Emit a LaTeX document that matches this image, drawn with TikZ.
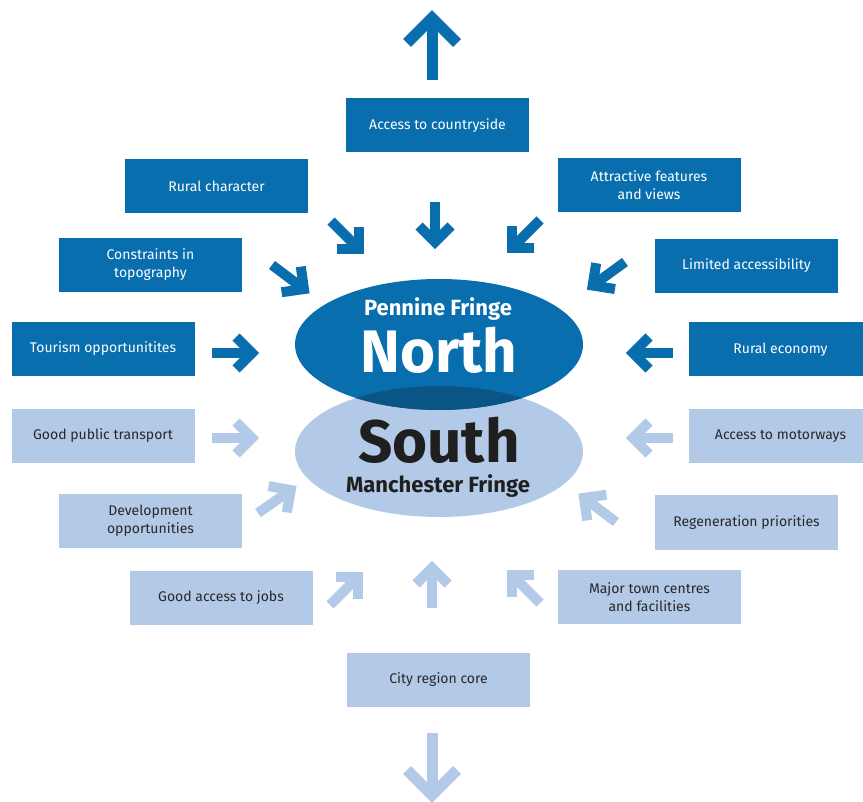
\documentclass[tikz,border=0pt]{standalone}
\usepackage{fontspec}
\setmainfont{Fira Sans}
\usetikzlibrary{shapes.geometric}
\definecolor{fringeblue}{RGB}{8,110,174}
\definecolor{fringelight}{RGB}{178,201,231}
\definecolor{fringedeep}{RGB}{11,84,134}
\definecolor{fringetext}{RGB}{40,40,40}
\tikzset{
  darkbox/.style={fill=fringeblue, text=white, minimum width=183, minimum height=54,
    inner sep=0, align=center, font=\fontsize{14}{18}\selectfont},
  lightbox/.style={darkbox, fill=fringelight, text=fringetext},
  fringe/.style={ellipse, inner sep=0, minimum width=288, minimum height=131},
  smallarrow/.pic={
    \draw[line width=10] (0,0) -- (40,0);
    \draw[line width=10, line join=miter] (24,16) -- (40,0) -- (24,-16);
  },
  bigarrow/.pic={
    \draw[line width=11] (0,0) -- (62,0);
    \draw[line width=11, line join=miter] (37,25) -- (62,0) -- (37,-25);
  }
}
\begin{document}
\begin{tikzpicture}[x=1pt, y=-1pt]
\useasboundingbox (0,0) rectangle (863,802);
% the two fringes
\node (south) [fringe, fill=fringelight] at (439,451.5) {};
\node (north) [fringe, fill=fringeblue] at (439,344.5) {};
\begin{scope}
  \clip (south.center) ellipse [x radius=144, y radius=65.5];
  \fill [fringedeep] (north.center) ellipse [x radius=144, y radius=65.5];
\end{scope}
\node (pennine) at (438,309) [text=white, font=\bfseries\fontsize{22}{22}\selectfont] {Pennine Fringe};
\node (northtxt) at (439,350) [text=white, font=\bfseries\fontsize{60}{60}\selectfont] {North};
\node (southtxt) at (439,440) [text=black!88, font=\bfseries\fontsize{60}{60}\selectfont] {South};
\node (manchester) at (438,486) [text=black!88, font=\bfseries\fontsize{22}{22}\selectfont] {Manchester Fringe};
% pennine side
\node (access) [darkbox] at (437.5,125.5) {Access to countryside};
\node (rural) [darkbox] at (216.5,186) {Rural character};
\node (attract) [darkbox] at (649,185) {Attractive features\\and views};
\node (constr) [darkbox] at (150.5,265) {Constraints in\\topography};
\node (limited) [darkbox] at (746.5,266) {Limited accessibility};
\node (tourism) [darkbox] at (103,349) {Tourism opportunitites};
\node (ruraleco) [darkbox] at (780.5,349.5) {Rural economy};
% manchester side
\node (transport) [lightbox] at (103,436) {Good public transport};
\node (motorways) [lightbox] at (780.5,436) {Access to motorways};
\node (develop) [lightbox] at (150.5,521) {Development\\opportunities};
\node (regen) [lightbox] at (746.5,522.5) {Regeneration priorities};
\node (jobs) [lightbox] at (221,598) {Good access to jobs};
\node (towns) [lightbox] at (649.5,597) {Major town centres\\and facilities};
\node (core) [lightbox] at (438.5,680) {City region core};
% arrows
\pic [color=fringeblue, rotate=90] at (432,80) {bigarrow};
\pic [color=fringeblue, rotate=-90] at (435,202) {smallarrow};
\pic [color=fringeblue, rotate=-45] at (331,221) {smallarrow};
\pic [color=fringeblue, rotate=-37] at (272,265) {smallarrow};
\pic [color=fringeblue, rotate=225] at (540,220) {smallarrow};
\pic [color=fringeblue, rotate=216] at (625,262) {smallarrow};
\pic [color=fringeblue] at (212,353) {smallarrow};
\pic [color=fringeblue, rotate=180] at (673,353) {smallarrow};
\pic [color=fringelight] at (212,438) {smallarrow};
\pic [color=fringelight, rotate=180] at (673,438) {smallarrow};
\pic [color=fringelight, rotate=35] at (258,513) {smallarrow};
\pic [color=fringelight, rotate=143] at (616,522) {smallarrow};
\pic [color=fringelight, rotate=45] at (330,605) {smallarrow};
\pic [color=fringelight, rotate=135] at (540,603) {smallarrow};
\pic [color=fringelight, rotate=90] at (432,608) {smallarrow};
\pic [color=fringelight, rotate=-90] at (432,733) {bigarrow};
\end{tikzpicture}
\end{document}
